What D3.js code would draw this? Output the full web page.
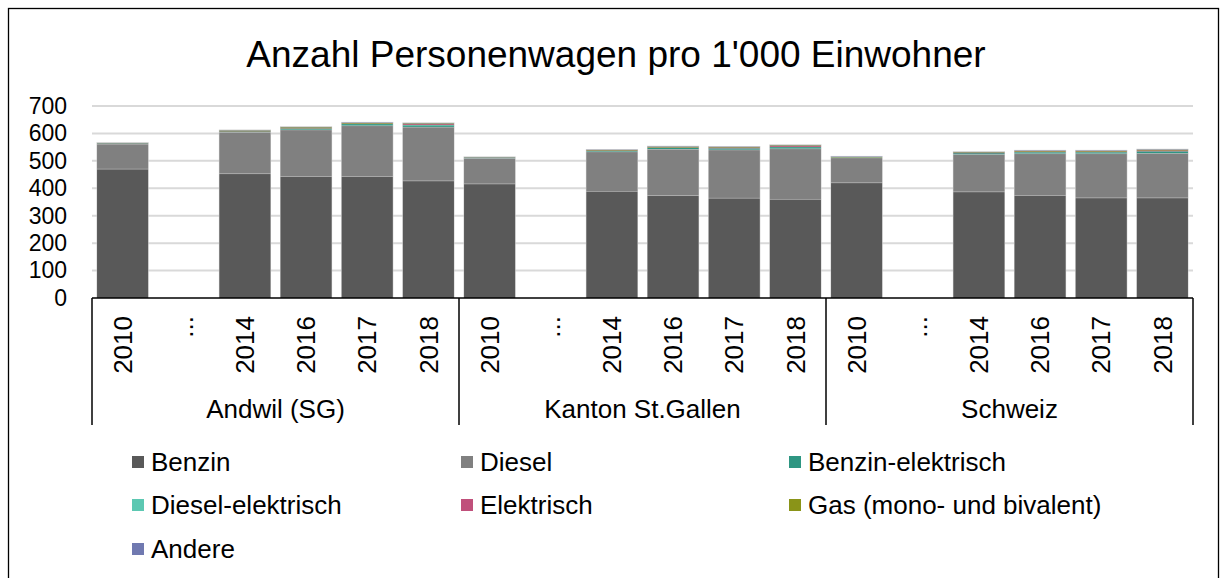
<!DOCTYPE html>
<html>
<head>
<meta charset="utf-8">
<script src="https://cdn.jsdelivr.net/npm/d3@7"></script>
<style>
  body { margin: 0; background: #fff; }
  svg text { font-family: "Liberation Sans", Arial, sans-serif; fill: #000; }
</style>
</head>
<body>
<svg id="chart" width="1221" height="578"></svg>
<script>
// categories
var groups = ["Andwil (SG)", "Kanton St.Gallen", "Schweiz"];
var years = ["2010", "...", "2014", "2016", "2017", "2018"];
var seriesNames = ["Benzin", "Diesel", "Benzin-elektrisch", "Diesel-elektrisch",
                   "Elektrisch", "Gas (mono- und bivalent)", "Andere"];
var seriesColors = ["#595959", "#808080", "#2e9682", "#5cc8b2", "#c0507b", "#8a9418", "#7079b0"];
var yTicks = [0, 100, 200, 300, 400, 500, 600, 700];

// values per series, 6 per group (the "..." slot stays empty)
var benzin     = [471, null, 454, 444, 444, 428,  417, null, 390, 374, 365, 361,  421, null, 388, 375, 366, 366];
var diesel     = [ 91, null, 151, 170, 185, 196,   93, null, 144, 169, 176, 184,   91, null, 136, 152, 161, 162];
var benzinEl   = [  1, null,   2,   3,   5,   5,    1, null,   2,   4,   4,   5,    1, null,   4,   4,   4,   6];
var dieselEl   = [  0, null,   0,   1,   1,   2,    0, null,   0,   1,   1,   1,    0, null,   0,   1,   1,   1];
var elektrisch = [  0, null,   1,   1,   1,   3,    0, null,   1,   1,   2,   3,    0, null,   1,   2,   2,   3];
var gas        = [  1, null,   2,   3,   2,   2,    1, null,   2,   2,   2,   2,    1, null,   2,   2,   2,   2];
var andere     = [  1, null,   1,   1,   1,   1,    1, null,   1,   1,   1,   1,    1, null,   1,   1,   1,   1];

var seriesValues = [benzin, diesel, benzinEl, dieselEl, elektrisch, gas, andere];

// build rows for d3.stack
var rows = [];
groups.forEach(function(g, gi) {
    years.forEach(function(y, yi) {
        var idx = gi * years.length + yi;
        var row = {key: g + "|" + y, group: g, year: y, empty: benzin[idx] == null};
        seriesNames.forEach(function(s, si) {
            row[s] = seriesValues[si][idx] || 0;
        });
        rows.push(row);
    });
});

var svg = d3.select("#chart");

// outer frame
svg.append("rect").attr("x", 8.5).attr("y", 8.5).attr("width", 1210).attr("height", 620)
    .attr("fill", "none").attr("stroke", "#000").attr("stroke-width", 1.3);

// title
svg.append("text").attr("x", 616).attr("y", 67).attr("text-anchor", "middle")
    .style("font-size", "37px").text("Anzahl Personenwagen pro 1'000 Einwohner");

var plotLeft = 92, plotRight = 1193, plotTop = 106, plotBottom = 298;

var x = d3.scaleBand().domain(rows.map(function(d) { return d.key; }))
    .range([plotLeft, plotRight]).paddingInner(0.165).paddingOuter(0.0825);
var y = d3.scaleLinear().domain([0, 700]).range([plotBottom, plotTop]);

// gridlines
svg.append("g").selectAll("line").data(yTicks.filter(function(t) { return t > 0; }))
    .join("line")
    .attr("x1", plotLeft).attr("x2", plotRight)
    .attr("y1", function(d) { return y(d); }).attr("y2", function(d) { return y(d); })
    .attr("stroke", "#d9d9d9").attr("stroke-width", 2);

// y axis labels
var yAxis = svg.append("g").attr("transform", "translate(" + plotLeft + ",0)")
    .call(d3.axisLeft(y).tickValues(yTicks).tickSize(0).tickPadding(25));
yAxis.select(".domain").remove();
yAxis.selectAll("text").style("font-size", "23px").style("font-family", "Liberation Sans, Arial, sans-serif");

// stacked bars
var stack = d3.stack().keys(seriesNames);
var stacked = stack(rows);

// light outline around each whole bar
svg.append("g").selectAll("rect").data(rows.filter(function(d) { return !d.empty; }))
    .join("rect")
    .attr("x", function(d) { return x(d.key) - 0.5; })
    .attr("width", x.bandwidth() + 1)
    .attr("y", function(d) { return y(d3.sum(seriesNames, function(s) { return d[s]; })) - 0.8; })
    .attr("height", function(d) { return plotBottom - y(d3.sum(seriesNames, function(s) { return d[s]; })) + 0.8; })
    .attr("fill", "#c8c8c8");

svg.append("g").selectAll("g").data(stacked).join("g")
    .attr("fill", function(d, i) { return seriesColors[i]; })
    .each(function(s, si) {
        d3.select(this).selectAll("rect")
            .data(s.filter(function(p) { return !p.data.empty && p[1] > p[0]; }))
            .join("rect")
            .attr("x", function(d) { return x(d.data.key); })
            .attr("width", x.bandwidth())
            .attr("y", function(d) { return y(d[1]) + (si < 2 ? 0.6 : 0); })
            .attr("height", function(d) { return y(d[0]) - y(d[1]) - (si < 2 ? 0.6 : 0); });
    });

// baseline
svg.append("line").attr("x1", plotLeft).attr("x2", plotRight).attr("y1", plotBottom).attr("y2", plotBottom)
    .attr("stroke", "#000").attr("stroke-width", 1.5);

// group divider lines
var groupWidth = (plotRight - plotLeft) / groups.length;
var groupEdges = d3.range(groups.length + 1).map(function(i) { return plotLeft + i * groupWidth; });
svg.append("g").selectAll("line").data(groupEdges).join("line")
    .attr("x1", function(d) { return d; }).attr("x2", function(d) { return d; })
    .attr("y1", plotBottom).attr("y2", 425)
    .attr("stroke", "#000").attr("stroke-width", 1.5);

// year labels (rotated)
svg.append("g").selectAll("text").data(rows).join("text")
    .attr("transform", function(d) {
        return "translate(" + (x(d.key) + x.bandwidth() / 2) + ",316) rotate(-90)";
    })
    .attr("text-anchor", "end").attr("dy", "0.35em")
    .style("font-size", "26px")
    .text(function(d) { return d.year; });

// group labels
svg.append("g").selectAll("text").data(groups).join("text")
    .attr("x", function(d, i) { return (groupEdges[i] + groupEdges[i + 1]) / 2; })
    .attr("y", 418).attr("text-anchor", "middle")
    .style("font-size", "26px")
    .text(function(d) { return d; });

// legend
var legendCols = [136, 465, 793], legendRows = [462, 505, 549];
var legend = svg.append("g").selectAll("g").data(seriesNames).join("g")
    .attr("transform", function(d, i) {
        return "translate(" + legendCols[i % 3] + "," + legendRows[Math.floor(i / 3)] + ")";
    });
legend.append("rect").attr("x", -4).attr("y", -6).attr("width", 12).attr("height", 12)
    .attr("fill", function(d, i) { return seriesColors[i]; });
legend.append("text").attr("x", 15).attr("dy", "0.35em").style("font-size", "26px")
    .text(function(d) { return d; });
</script>
</body>
</html>
